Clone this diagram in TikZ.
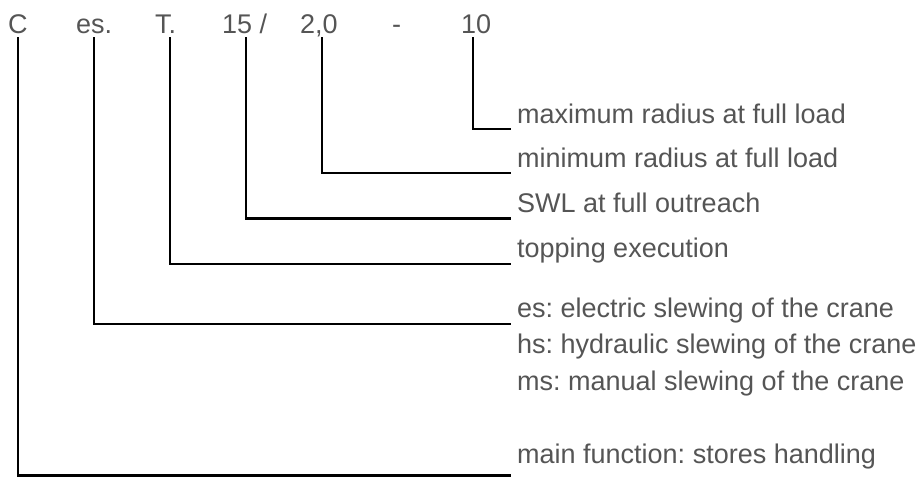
\documentclass[tikz,border=0pt]{standalone}
\usepackage{fontspec}
\setmainfont{Liberation Sans}
\frenchspacing
\definecolor{txtgray}{RGB}{85,85,85}
\begin{document}
\begin{tikzpicture}[x=1pt,y=-1pt,
  code/.style={anchor=base west,inner sep=0pt,text=txtgray,font=\fontsize{27}{31}\selectfont},
  desc/.style={anchor=base west,inner sep=0pt,text=txtgray,font=\fontsize{27}{31}\selectfont},
  leader/.style={draw=black,line width=2.2pt}]
\useasboundingbox (0,0) rectangle (916,477);
% code line
\node[code] (kC)  at (8,33)   {C};
\node[code] (kES) at (76,33)  {es.};
\node[code] (kT)  at (155,33) {T.};
\node[code] (k15) at (222,33) {15 /};
\node[code] (k20) at (300,33) {2,0};
\node[code] (kD)  at (392,33) {-};
\node[code] (k10) at (461,33) {10};
% descriptions
\node[desc] (dMax)  at (517,123)   {maximum radius at full load};
\node[desc] (dMin)  at (517,167)   {minimum radius at full load};
\node[desc] (dSWL)  at (517,212)   {SWL at full outreach};
\node[desc] (dTop)  at (517,257)   {topping execution};
\node[desc] (dES)   at (517,317)   {es: electric slewing of the crane};
\node[desc] (dHS)   at (517,353.5) {hs: hydraulic slewing of the crane};
\node[desc] (dMS)   at (517,390)   {ms: manual slewing of the crane};
\node[desc] (dMain) at (517,463)   {main function: stores handling};
% leader start points (below the code characters)
\coordinate (sC)  at (18,37);
\coordinate (sES) at (93.7,37);
\coordinate (sT)  at (170,37);
\coordinate (s15) at (246,37);
\coordinate (s20) at (322,37);
\coordinate (s10) at (472.7,37);
% leader end points (under each description)
\coordinate (eMax)  at (511,128.7);
\coordinate (eMin)  at (511,173);
\coordinate (eSWL)  at (511,218.5);
\coordinate (eTop)  at (511,264);
\coordinate (eES)   at (511,324);
\coordinate (eMain) at (511,475.5);
% leaders
\draw[leader] (s10) |- (eMax);
\draw[leader] (s20) |- (eMin);
\draw[leader] (s15) |- (eSWL);
\draw[leader] (sT)  |- (eTop);
\draw[leader] (sES) |- (eES);
\draw[leader] (sC)  |- (eMain);
\end{tikzpicture}
\end{document}
